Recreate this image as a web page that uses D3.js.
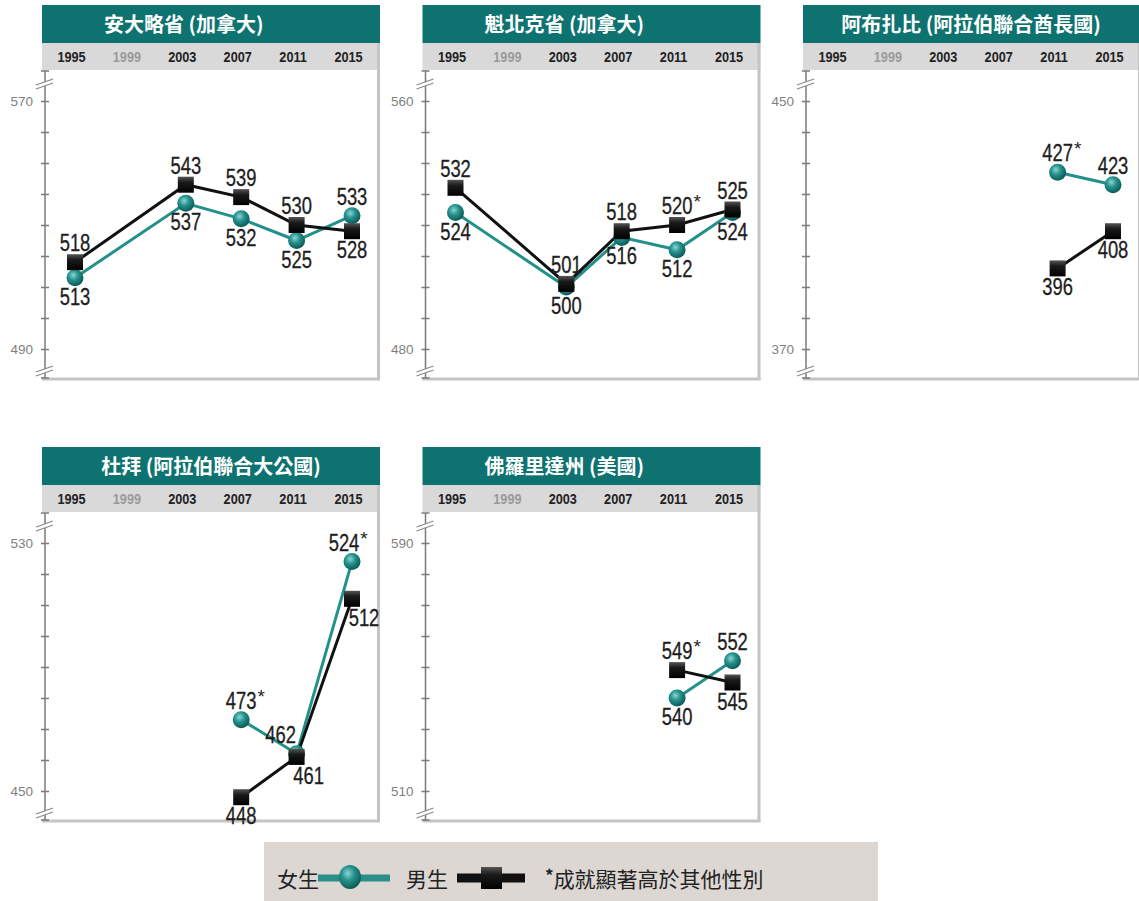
<!DOCTYPE html>
<html lang="zh-Hant">
<head>
    <meta charset="UTF-8">
    <title>Math by gender</title>
    <script src="https://cdn.jsdelivr.net/npm/d3@7"></script>
    <style>
        body{
            margin: 0;
            background: white;
        }
        .num{
            font-family: "Liberation Sans", Arial, sans-serif;
        }
        .cjk{
            font-family: "Noto Sans CJK TC", "Noto Sans CJK SC", sans-serif;
        }
    </style>
</head>
<body>
<svg id="main" width="1139" height="901"></svg>
<script>
    const width = 1139, height = 901;

    // data
    const years = ["1995", "1999", "2003", "2007", "2011", "2015"];
    const panelTitles = ["安大略省 (加拿大)", "魁北克省 (加拿大)", "阿布扎比 (阿拉伯聯合酋長國)",
                         "杜拜 (阿拉伯聯合大公國)", "佛羅里達州 (美國)"];
    const yDomains = [[490, 570], [480, 560], [370, 450], [450, 530], [510, 590]];
    const girls = [
        [513, null, 537, 532, 525, 533],
        [524, null, 500, 516, 512, 524],
        [null, null, null, null, 427, 423],
        [null, null, null, 473, 462, 524],
        [null, null, null, null, 540, 552]
    ];
    const boys = [
        [518, null, 543, 539, 530, 528],
        [532, null, 501, 518, 520, 525],
        [null, null, null, null, 396, 408],
        [null, null, null, 448, 461, 512],
        [null, null, null, null, 549, 545]
    ];
    // significantly higher than the other gender (asterisk)
    const girlsSig = [
        [0, 0, 0, 0, 0, 0],
        [0, 0, 0, 0, 0, 0],
        [0, 0, 0, 0, 1, 0],
        [0, 0, 0, 1, 0, 1],
        [0, 0, 0, 0, 0, 0]
    ];
    const boysSig = [
        [0, 0, 0, 0, 0, 0],
        [0, 0, 0, 0, 1, 0],
        [0, 0, 0, 0, 0, 0],
        [0, 0, 0, 0, 0, 0],
        [0, 0, 0, 0, 1, 0]
    ];
    const legendLabels = ["女生", "男生", "成就顯著高於其他性別"];

    // small sideways shifts so labels keep clear of steep lines (panel-series-year)
    const labelShift = {"3-g-2011": -16, "3-b-2011": 12, "3-b-2015": 12, "3-g-2015": -8};

    const teal = "#0e7370", girlColor = "#23908c", boyColor = "#111";

    const svg = d3.select("svg#main");

    // gradients for the markers
    const defs = svg.append("defs");
    const rg = defs.append("radialGradient").attr("id", "ball")
        .attr("cx", "40%").attr("cy", "35%").attr("r", "65%");
    rg.append("stop").attr("offset", "0%").attr("stop-color", "#8ad6d2");
    rg.append("stop").attr("offset", "45%").attr("stop-color", "#26928e");
    rg.append("stop").attr("offset", "100%").attr("stop-color", "#0b5a57");
    const lg = defs.append("linearGradient").attr("id", "box")
        .attr("x1", 0).attr("y1", 0).attr("x2", 0).attr("y2", 1);
    lg.append("stop").attr("offset", "0%").attr("stop-color", "#555");
    lg.append("stop").attr("offset", "35%").attr("stop-color", "#1a1a1a");
    lg.append("stop").attr("offset", "100%").attr("stop-color", "#000");

    function drawPanel(i){
        const col = i % 3, row = Math.floor(i / 3);
        const left = 42 + col * 380.5, top = 5 + row * 442;
        const w = 338;
        const g = svg.append("g").attr("transform", `translate(${left},${top})`);

        // header + year band
        g.append("rect").attr("width", w).attr("height", 38).attr("fill", teal);
        g.append("rect").attr("y", 38).attr("width", w).attr("height", 27).attr("fill", "#d9d9d9");
        const title = g.append("text").attr("class", "cjk")
            .attr("y", 27).attr("fill", "white")
            .attr("font-size", 20).attr("font-weight", "bold")
            .text(panelTitles[i]);
        const tw = title.node().getComputedTextLength();
        title.attr("x", Math.min(62, (Math.min(w, width - left) - tw) / 2));

        // frame
        g.append("line").attr("x1", w - 1.5).attr("x2", w - 1.5).attr("y1", 38).attr("y2", 375)
            .attr("stroke", "#c4c4c4").attr("stroke-width", 3);
        g.append("line").attr("x1", 0).attr("x2", w).attr("y1", 374).attr("y2", 374)
            .attr("stroke", "#c4c4c4").attr("stroke-width", 3);

        const xScale = d3.scalePoint().domain(years).range([33, 310]);
        const yScale = d3.scaleLinear().domain(yDomains[i]).range([344, 96]);

        g.selectAll(".yr").data(years).join("text")
            .attr("class", "num")
            .attr("transform", d => `translate(${xScale(d) - 3.5},57) scale(0.82,1)`)
            .attr("text-anchor", "middle")
            .attr("font-size", 15.5).attr("font-weight", "bold")
            .attr("fill", d => d === "1999" ? "#9a9a9a" : "#222")
            .text(d => d);

        // y axis with break marks
        const ax = 3;
        const [lo, hi] = yDomains[i];
        const axisGen = d3.axisLeft(yScale)
            .tickValues(d3.range(lo, hi + 1, 10))
            .tickSize(4)
            .tickFormat(d => (d === lo || d === hi) ? d : "");
        const axisG = g.append("g").attr("transform", `translate(${ax},0)`).call(axisGen);
        axisG.select(".domain").remove();
        axisG.selectAll(".tick line").attr("x1", -4).attr("x2", 4)
            .attr("stroke", "#7a7a7a").attr("stroke-width", 1.5);
        axisG.selectAll(".tick text").attr("x", -12)
            .attr("font-family", "Liberation Sans, Arial, sans-serif")
            .attr("font-size", 13.5).attr("fill", "#7f7f7f");

        g.append("line").attr("x1", ax).attr("x2", ax).attr("y1", 66).attr("y2", 373)
            .attr("stroke", "#7a7a7a").attr("stroke-width", 1.5);
        [66, 373].forEach(y => g.append("line").attr("x1", ax - 4).attr("x2", ax + 4)
            .attr("y1", y).attr("y2", y).attr("stroke", "#7a7a7a").attr("stroke-width", 1.5));
        [75, 362].forEach(y => {
            g.append("polygon")
                .attr("points", `${ax - 8},${y + 5} ${ax + 8},${y - 1} ${ax + 8},${y + 3} ${ax - 8},${y + 9}`)
                .attr("fill", "white");
            g.append("line").attr("x1", ax - 9).attr("y1", y + 5).attr("x2", ax + 8).attr("y2", y - 1)
                .attr("stroke", "#8a8a8a").attr("stroke-width", 1.2);
            g.append("line").attr("x1", ax - 9).attr("y1", y + 9).attr("x2", ax + 8).attr("y2", y + 3)
                .attr("stroke", "#8a8a8a").attr("stroke-width", 1.2);
        });

        // lines
        const pts = arr => years.map((y, k) => ({year: y, v: arr[i][k], k})).filter(d => d.v !== null);
        const gPts = pts(girls), bPts = pts(boys);
        const line = d3.line().x(d => xScale(d.year)).y(d => yScale(d.v));
        g.append("path").datum(gPts).attr("d", line).attr("fill", "none")
            .attr("stroke", girlColor).attr("stroke-width", 3);
        g.append("path").datum(bPts).attr("d", line).attr("fill", "none")
            .attr("stroke", boyColor).attr("stroke-width", 3);

        g.selectAll(".gm").data(gPts).join("circle")
            .attr("cx", d => xScale(d.year)).attr("cy", d => yScale(d.v))
            .attr("r", 8.5).attr("fill", "url(#ball)");
        g.selectAll(".bm").data(bPts).join("rect")
            .attr("x", d => xScale(d.year) - 8).attr("y", d => yScale(d.v) - 8)
            .attr("width", 16).attr("height", 16).attr("fill", "url(#box)");

        // value labels: the higher value goes above, the lower one below
        function addLabels(p, other, sig, key){
            p.forEach(d => {
                const o = other[i][d.k];
                const above = o === null ? true : d.v > o;
                const x = xScale(d.year) + (labelShift[`${i}-${key}-${d.year}`] || 0);
                const y = yScale(d.v) + (above ? -11 : 27);
                const t = g.append("text").attr("class", "num")
                    .attr("transform", `translate(${x},${y}) scale(0.8,1)`)
                    .attr("text-anchor", "middle").attr("font-size", 23)
                    .attr("fill", "#1e1e1e").attr("stroke", "#1e1e1e").attr("stroke-width", 0.3)
                    .text(d.v);
                if(sig[i][d.k]){
                    const half = t.node().getComputedTextLength() * 0.8 / 2;
                    g.append("text").attr("class", "num")
                        .attr("x", x + half + 1).attr("y", y - 6)
                        .attr("font-size", 19).attr("fill", "#1e1e1e").text("*");
                }
            });
        }
        addLabels(gPts, boys, girlsSig, "g");
        addLabels(bPts, girls, boysSig, "b");
    }

    panelTitles.forEach((_, i) => drawPanel(i));

    // legend
    const leg = svg.append("g");
    leg.append("rect").attr("x", 264).attr("y", 842).attr("width", 614).attr("height", 59)
        .attr("fill", "#dcd7d3");
    leg.append("text").attr("class", "cjk").attr("x", 277).attr("y", 887)
        .attr("font-size", 21).attr("fill", "#222").text(legendLabels[0]);
    leg.append("line").attr("x1", 318).attr("x2", 390).attr("y1", 878).attr("y2", 878)
        .attr("stroke", "#2a8e8a").attr("stroke-width", 7);
    leg.append("ellipse").attr("cx", 350).attr("cy", 877).attr("rx", 11).attr("ry", 12)
        .attr("fill", "url(#ball)");
    leg.append("text").attr("class", "cjk").attr("x", 406).attr("y", 887)
        .attr("font-size", 21).attr("fill", "#222").text(legendLabels[1]);
    leg.append("line").attr("x1", 457).attr("x2", 525).attr("y1", 878).attr("y2", 878)
        .attr("stroke", "#111").attr("stroke-width", 9);
    leg.append("rect").attr("x", 481).attr("y", 867).attr("width", 21).attr("height", 22)
        .attr("fill", "url(#box)");
    const note = leg.append("text").attr("class", "cjk").attr("x", 545).attr("y", 887)
        .attr("font-size", 21).attr("fill", "#222");
    note.append("tspan").attr("dy", -5).attr("font-weight", "bold").attr("font-size", 17).text("*");
    note.append("tspan").attr("dy", 5).text(legendLabels[2]);
</script>
</body>
</html>
